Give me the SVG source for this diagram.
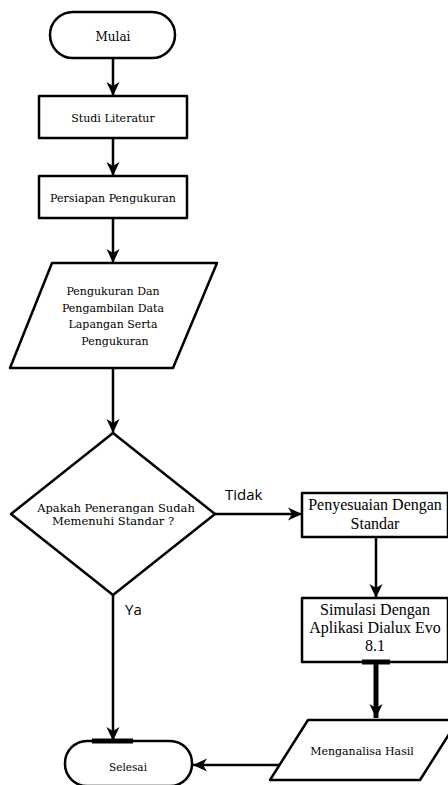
<svg xmlns="http://www.w3.org/2000/svg" width="448" height="785" viewBox="0 0 448 785">
<defs>
<marker id="ah" markerUnits="userSpaceOnUse" markerWidth="16" markerHeight="14" refX="14" refY="7" orient="auto">
<path d="M0,0.5 L14,7 L0,13.5 L4,7 Z" fill="#000"/>
</marker>
<style>
.shape{fill:#fff;stroke:#000;stroke-width:2.5;stroke-linejoin:round}
.ln{fill:none;stroke:#000;stroke-width:2.5}
.thick{fill:none;stroke:#000;stroke-width:5}
.t{font-family:"DejaVu Serif",serif;font-size:11px;fill:#000;text-anchor:middle}
.tb{font-family:"Liberation Serif","Times New Roman",serif;font-size:16px;fill:#000;text-anchor:middle}
.lab{font-family:"Open Sans","Noto Sans",sans-serif;font-size:15px;fill:#000}
</style>
</defs>
<rect width="448" height="785" fill="#fff"/>
<g id="connectors">
<line class="ln" x1="113" y1="58" x2="113" y2="96" marker-end="url(#ah)"/>
<line class="ln" x1="113" y1="138" x2="113" y2="176" marker-end="url(#ah)"/>
<line class="ln" x1="113" y1="218" x2="113" y2="263" marker-end="url(#ah)"/>
<line class="ln" x1="113" y1="368" x2="113" y2="433" marker-end="url(#ah)"/>
<line class="ln" x1="215" y1="514" x2="302" y2="514" marker-end="url(#ah)"/>
<line class="ln" x1="376" y1="537" x2="376" y2="598" marker-end="url(#ah)"/>
<line class="thick" x1="376" y1="662" x2="376" y2="718" marker-end="url(#ah)"/>
<line class="ln" x1="280" y1="765" x2="193" y2="765" marker-end="url(#ah)"/>
<line class="ln" x1="113" y1="595" x2="113" y2="741" marker-end="url(#ah)"/>
<text class="lab" x="225" y="500">Tidak</text>
<text class="lab" x="125" y="615">Ya</text>
</g>
<g id="mulai">
<rect class="shape" x="50" y="12" width="125" height="46" rx="23"/>
<text class="t" x="113" y="41" style="font-size:12px">Mulai</text>
</g>
<g id="studi">
<rect class="shape" x="39" y="96" width="148" height="42"/>
<text class="t" x="113" y="122">Studi Literatur</text>
</g>
<g id="persiapan">
<rect class="shape" x="39" y="176" width="148" height="42"/>
<text class="t" x="113" y="202">Persiapan Pengukuran</text>
</g>
<g id="pengukuran">
<polygon class="shape" points="52,263 217,263 173,368 10,368"/>
<text class="t" x="113" y="295">Pengukuran Dan</text>
<text class="t" x="113" y="312">Pengambilan Data</text>
<text class="t" x="113" y="328">Lapangan Serta</text>
<text class="t" x="115" y="345">Pengukuran</text>
</g>
<g id="keputusan">
<polygon class="shape" points="113,433 215,514 113,595 11,514"/>
<text class="t" x="116" y="512" style="font-size:11.5px">Apakah Penerangan Sudah</text>
<text class="t" x="113" y="525" style="font-size:11.5px">Memenuhi Standar ?</text>
</g>
<g id="penyesuaian">
<rect class="shape" x="302" y="493" width="146" height="44"/>
<text class="tb" x="375" y="510">Penyesuaian Dengan</text>
<text class="tb" x="375" y="529">Standar</text>
</g>
<g id="simulasi">
<rect class="shape" x="302" y="598" width="146" height="64"/>
<text class="tb" x="375" y="615">Simulasi Dengan</text>
<text class="tb" x="375" y="633">Aplikasi Dialux Evo</text>
<text class="tb" x="375" y="651">8.1</text>
<line class="thick" x1="362" y1="662" x2="390" y2="662"/>
</g>
<g id="menganalisa">
<polygon class="shape" points="308,720 458,720 420,780 270,780"/>
<text class="t" x="362" y="755">Menganalisa Hasil</text>
</g>
<g id="selesai">
<rect class="shape" x="65" y="741" width="127" height="45" rx="22"/>
<line class="thick" x1="92" y1="741" x2="133" y2="741"/>
<text class="t" x="128" y="771" style="font-size:10.5px">Selesai</text>
</g>
</svg>
